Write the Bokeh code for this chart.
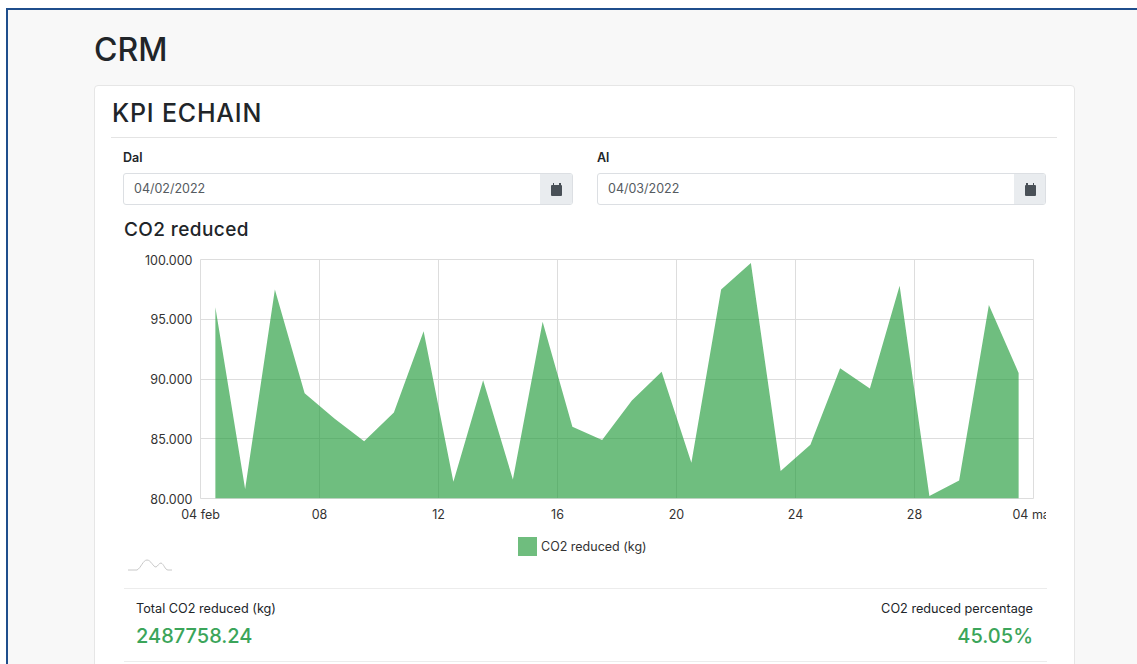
from datetime import datetime, timedelta
from bokeh.plotting import figure
from bokeh.layouts import column
from bokeh.embed import file_html
from bokeh.resources import INLINE
from bokeh.models import (Div, Range1d, FixedTicker, GlobalInlineStyleSheet, ColumnDataSource)

# ---- data ----
start_date = datetime(2022, 2, 4)
co2_reduced = [96000, 80800, 97500, 88800, 86700, 84800, 87200, 94000, 81400, 89900,
               81600, 94800, 86000, 84900, 88200, 90600, 83000, 97500, 99700, 82300,
               84500, 90900, 89200, 97800, 80200, 81500, 96200, 90500]
x_tick_labels = ["04 feb", "08", "12", "16", "20", "24", "28", "04 mar"]
y_tick_values = [80000, 85000, 90000, 95000, 100000]
y_tick_labels = ["80.000", "85.000", "90.000", "95.000", "100.000"]
series_name = "CO2 reduced (kg)"
total_value = "2487758.24"
pct_value = "45.05%"
date_from = "04/02/2022"
date_to = "04/03/2022"

FONT = "Inter"
W, H = 1137, 664
TOP_H, FIG_H = 245, 283
PAGE = "#f8f8f8"
NAVY = "#1f4e8c"
CARD_LINE = "#e6e6e6"
GREEN_TEXT = "#3ba55a"
BG = (f"linear-gradient(to right, white 0 6px, {NAVY} 6px 8px, {PAGE} 8px 94px, {CARD_LINE} 94px 95px, "
      f"white 95px 1074px, {CARD_LINE} 1074px 1075px, {PAGE} 1075px)")


def ms(d):
    return d.timestamp() * 1000


days = [start_date + timedelta(days=i, hours=12) for i in range(len(co2_reduced))]
x_ticks = [ms(start_date + timedelta(days=4 * i)) for i in range(len(x_tick_labels))]

css = GlobalInlineStyleSheet(css=f"html,body{{margin:0;padding:0;overflow:hidden;background:{PAGE};}}")

p = figure(width=W, height=FIG_H, output_backend="svg", toolbar_location=None,
           x_axis_type="datetime",
           x_range=Range1d(ms(start_date), x_ticks[-1]), y_range=Range1d(80000, 100000),
           min_border_left=200, min_border_right=104, min_border_top=14, min_border_bottom=30,
           background_fill_color="white", border_fill_color=None, stylesheets=[css],
           styles={"background": BG})
p.outline_line_color = "#dddddd"

for ax in (p.xaxis[0], p.yaxis[0]):
    ax.axis_line_color = None
    ax.major_tick_line_color = None
    ax.minor_tick_line_color = None
    ax.major_label_text_font = FONT
    ax.major_label_text_font_size = "12.5px"
    ax.major_label_text_color = "#333333"
p.xaxis[0].major_label_standoff = 2
p.yaxis[0].major_label_standoff = 2
p.xaxis[0].ticker = FixedTicker(ticks=x_ticks)
p.xaxis[0].major_label_overrides = dict(zip(x_ticks, x_tick_labels))
p.yaxis[0].ticker = FixedTicker(ticks=y_tick_values)
p.yaxis[0].major_label_overrides = dict(zip(y_tick_values, y_tick_labels))
p.xgrid[0].ticker = FixedTicker(ticks=x_ticks)
p.ygrid[0].ticker = FixedTicker(ticks=y_tick_values)
p.xgrid.grid_line_color = "#dddddd"
p.ygrid.grid_line_color = "#dddddd"

src = ColumnDataSource(dict(x=days, y=co2_reduced, base=[80000] * len(days)))
area = p.varea(x="x", y1="base", y2="y", source=src, fill_color="#259c3c", fill_alpha=0.66)


# ---- page around the chart: real HTML text ----
def text(x, base, s, size, color="#212529", weight=400, align="left", track=0):
    top = base - 0.8638 * size
    pos = f"left:{x}px" if align == "left" else f"right:{W - x}px"
    return (f'<div style="position:absolute;{pos};top:{top:.1f}px;font:{weight} {size}px/1 {FONT};'
            f'letter-spacing:{track}px;color:{color};white-space:nowrap">{s}</div>')


def rect(l, t, r, b, fill, extra=""):
    return (f'<div style="position:absolute;left:{l}px;top:{t}px;width:{r - l}px;height:{b - t}px;'
            f'background:{fill};{extra}"></div>')


def date_input(left, split, right, val):
    cx = (split + right) / 2
    return "".join([
        rect(left, 173, right, 205, "white", "box-sizing:border-box;border:1px solid #dcdfe3;border-radius:3px"),
        rect(split, 174, right - 1, 204, "#e9ecef", "border-radius:0 2px 2px 0"),
        rect(cx - 5.5, 185, cx + 5.5, 196, "#495057", "border-radius:1px"),
        rect(cx - 4, 183, cx - 2.5, 185, "#495057"),
        rect(cx + 2.5, 183, cx + 4, 185, "#495057"),
        text(left + 11, 193.5, val, 12.5, color="#555b61"),
    ])


top_html = "".join([
    rect(0, 0, W, 8, "white"), rect(0, 0, 6, TOP_H, "white"),
    rect(6, 8, W, 10, NAVY), rect(6, 8, 8, TOP_H, NAVY),
    rect(94, 85, 1075, TOP_H + 20, "white", f"box-sizing:border-box;border:1px solid {CARD_LINE};border-radius:4px"),
    rect(111, 136.5, 1057, 137.5, "#e4e4e4"),
    text(94, 62, "CRM", 32, weight=500),
    text(112, 123, "KPI ECHAIN", 25, weight=500, track=0.8),
    text(123, 163, "Dal", 12.5, weight=600),
    text(597, 163, "Al", 12.5, weight=600),
    date_input(123, 540, 573, date_from),
    date_input(597, 1014, 1046, date_to),
    text(124, 236, "CO2 reduced", 19, weight=500, track=0.4),
])
top = Div(text=f'<div style="position:relative;width:{W}px;height:{TOP_H}px;overflow:hidden;background:{PAGE}">{top_html}</div>',
          width=W, height=TOP_H, margin=0)

y0 = TOP_H + FIG_H
BOT_H = H - y0
squiggle = (f'<svg style="position:absolute;left:120px;top:{556 - y0}px" width="60" height="20" viewBox="120 556 60 20">'
            '<path d="M128 570 H137 C141 568 143 560 147 560 C151 560 153 567 156 567 C158 566 159 563 161 563 '
            'C164 564 165 570 168 570 H172" fill="none" stroke="#c8c8c8" stroke-width="1"/></svg>')
bot_html = "".join([
    rect(518, 537 - y0, 536.5, 556 - y0, "#6fbd7e"),
    text(541, 551.5 - y0, series_name, 12.5, color="#333333"),
    squiggle,
    rect(124, 587.5 - y0, 1047, 588.5 - y0, "#ececec"),
    rect(124, 660.5 - y0, 1047, 661.5 - y0, "#ececec"),
    text(136, 614 - y0, "Total CO2 reduced (kg)", 12.7),
    text(1033, 614 - y0, "CO2 reduced percentage", 12.7, align="right"),
    text(136, 643 - y0, total_value, 20, color=GREEN_TEXT, weight=500),
    text(1033, 643 - y0, pct_value, 20, color=GREEN_TEXT, weight=500, align="right"),
])
# the original page cuts the last x label at the chart's right edge: a white patch over the figure
label_cut = ('<div style="position:absolute;z-index:5;left:1046px;top:-26px;width:27px;height:24px;background:white"></div>')
bottom = Div(text=(f'<div style="position:relative;width:{W}px;height:{BOT_H}px;background:{BG}">'
                   f'{label_cut}<div style="position:absolute;inset:0;overflow:hidden">{bot_html}</div></div>'),
             width=W, height=BOT_H, margin=0, styles={"overflow": "visible", "z-index": "5"})

page = column(top, p, bottom, spacing=0)

open("out.html", "w").write(file_html(page, INLINE))
